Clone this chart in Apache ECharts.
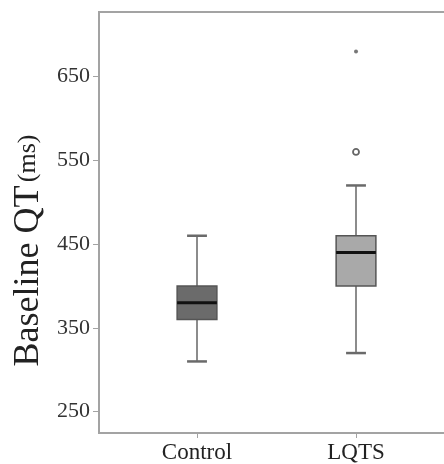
<!DOCTYPE html>
<html>
<head>
<meta charset="utf-8">
<script src="https://cdn.jsdelivr.net/npm/echarts@6/dist/echarts.min.js"></script>
<style>html,body{margin:0;padding:0;background:#fff;overflow:hidden}#c{width:480px;height:464px}</style>
</head>
<body>
<div id="c"></div>
<script>
const categories = ['Control', 'LQTS'];
const categoryPos = [1, 2];
const lowWhisker = [310, 320];
const q1 = [360, 400];
const median = [380, 440];
const q3 = [400, 460];
const highWhisker = [460, 520];
const boxColors = ['#6b6b6b', '#a9a9a9'];
const outlierCircle = [[2, 560]];
const outlierStar = [[2, 680]];
const yTicks = [250, 350, 450, 550, 650];

const boxData = categories.map((c, i) => [categoryPos[i], lowWhisker[i], q1[i], median[i], q3[i], highWhisker[i], i]);

const chart = echarts.init(document.getElementById('c'), null, {renderer: 'canvas'});
const serif = 'Liberation Serif, Times New Roman, serif';
chart.setOption({
  animation: false,
  grid: {left: 99, width: 360, top: 12, height: 421, show: true, borderColor: '#a3a3a3', borderWidth: 2, backgroundColor: '#fff'},
  xAxis: {
    type: 'value', min: 0.3836, max: 0.3836 + 360 / 159,
    axisLine: {show: true, lineStyle: {color: '#a3a3a3', width: 2}},
    axisTick: {show: true, customValues: categoryPos, length: 5, lineStyle: {color: '#a3a3a3', width: 1}},
    axisLabel: {customValues: categoryPos, formatter: v => categories[categoryPos.indexOf(v)] || '', fontFamily: serif, fontSize: 23, color: '#222', margin: 8},
    splitLine: {show: false}
  },
  yAxis: {
    type: 'value', min: 224.6, max: 727,
    axisLine: {show: true, lineStyle: {color: '#a3a3a3', width: 2}},
    axisTick: {show: true, customValues: yTicks, length: 6, lineStyle: {color: '#a3a3a3', width: 1}},
    axisLabel: {customValues: yTicks, fontFamily: serif, fontSize: 22, color: '#333', margin: 9},
    splitLine: {show: false},
    name: '{a|Baseline QT} {b|(ms)}',
    nameLocation: 'middle', nameGap: 48, nameRotate: 90,
    nameTextStyle: {padding: [0, 56, 0, 0], rich: {a: {fontFamily: serif, fontSize: 36, color: '#222'}, b: {fontFamily: serif, fontSize: 26, color: '#222'}}}
  },
  series: [
    {
      type: 'custom',
      data: boxData,
      renderItem: function (params, api) {
        const x = api.value(0);
        const lo = api.coord([x, api.value(1)]);
        const b1 = api.coord([x, api.value(2)]);
        const md = api.coord([x, api.value(3)]);
        const b3 = api.coord([x, api.value(4)]);
        const hi = api.coord([x, api.value(5)]);
        const bw = api.size([0.25, 0])[0];
        const cw = api.size([0.125, 0])[0];
        const idx = api.value(6);
        const cx = lo[0];
        return {
          type: 'group',
          children: [
            {type: 'line', shape: {x1: cx, y1: lo[1], x2: cx, y2: b1[1]}, style: {stroke: '#8c8c8c', lineWidth: 2}},
            {type: 'line', shape: {x1: cx, y1: b3[1], x2: cx, y2: hi[1]}, style: {stroke: '#8c8c8c', lineWidth: 2}},
            {type: 'line', shape: {x1: cx - cw / 2, y1: lo[1], x2: cx + cw / 2, y2: lo[1]}, style: {stroke: '#6a6a6a', lineWidth: 2.5}},
            {type: 'line', shape: {x1: cx - cw / 2, y1: hi[1], x2: cx + cw / 2, y2: hi[1]}, style: {stroke: '#6a6a6a', lineWidth: 2.5}},
            {type: 'rect', shape: {x: cx - bw / 2, y: b3[1], width: bw, height: b1[1] - b3[1]}, style: {fill: boxColors[idx], stroke: '#555', lineWidth: 1.5}},
            {type: 'line', shape: {x1: cx - bw / 2, y1: md[1], x2: cx + bw / 2, y2: md[1]}, style: {stroke: '#111', lineWidth: 3}}
          ]
        };
      }
    },
    {
      type: 'scatter', data: outlierCircle, symbol: 'circle', symbolSize: 6, z: 5,
      itemStyle: {color: '#ffffff', borderColor: '#666666', borderWidth: 1.8, opacity: 1}
    },
    {
      type: 'scatter', data: outlierStar, symbol: 'circle', symbolSize: 4, z: 5,
      itemStyle: {color: '#555'}
    }
  ]
});
</script>
</body>
</html>
